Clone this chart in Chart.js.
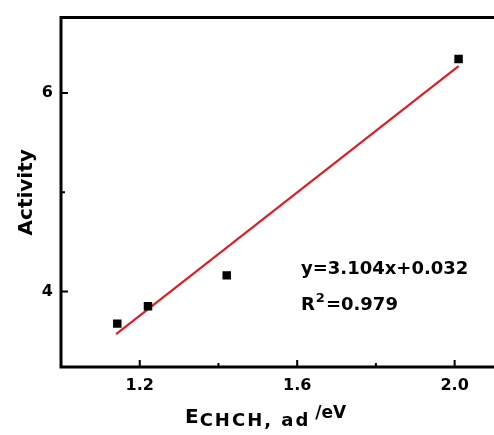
<!DOCTYPE html>
<html>
<head>
<meta charset="utf-8">
<script src="https://cdn.jsdelivr.net/npm/chart.js@4"></script>
<style>
  html, body { margin: 0; padding: 0; background: #fff; overflow: hidden; }
  #wrap { position: relative; width: 500px; height: 435px; }
</style>
</head>
<body>
<div id="wrap"><canvas id="c"></canvas></div>
<script>
// Adsorption energy of CHCH (eV) vs. activity
const energies   = [1.143, 1.221, 1.421, 2.010];
const activities = [3.677, 3.853, 4.163, 6.344];

// Linear fit reported on the plot
const fitSlope = 3.104;
const fitIntercept = 0.032;
const fitR2 = 0.979;
const fitRange = [1.14, 2.01];

// Axis ticks
const xMajorTicks = [1.2, 1.6, 2.0];
const xMinorTicks = [1.4, 1.8];
const yMajorTicks = [4, 6];
const yMinorTicks = [5];

const FONT = 'DejaVu Sans';

const scatterPoints = energies.map((e, i) => ({ x: e, y: activities[i] }));
const fitPoints = fitRange.map(e => ({ x: e, y: fitSlope * e + fitIntercept }));

// Frame, inward tick marks, x-axis title with subscript, fit annotation
const decorations = {
  id: 'decorations',
  afterDraw(chart) {
    const { ctx, chartArea: { left, right, top, bottom }, scales: { x, y } } = chart;
    ctx.save();
    ctx.strokeStyle = '#000';
    ctx.lineWidth = 3;
    ctx.beginPath();
    ctx.moveTo(right + 10, top);
    ctx.lineTo(left, top);
    ctx.lineTo(left, bottom);
    ctx.lineTo(right + 10, bottom);
    ctx.stroke();

    ctx.lineWidth = 2;
    ctx.beginPath();
    xMajorTicks.forEach(v => { const px = x.getPixelForValue(v); ctx.moveTo(px, bottom); ctx.lineTo(px, bottom - 7); });
    xMinorTicks.forEach(v => { const px = x.getPixelForValue(v); ctx.moveTo(px, bottom); ctx.lineTo(px, bottom - 4); });
    yMajorTicks.forEach(v => { const py = y.getPixelForValue(v); ctx.moveTo(left, py); ctx.lineTo(left + 7, py); });
    yMinorTicks.forEach(v => { const py = y.getPixelForValue(v); ctx.moveTo(left, py); ctx.lineTo(left + 4, py); });
    ctx.stroke();

    // x-axis title: E_{CHCH, ad} /eV
    ctx.fillStyle = '#000';
    ctx.textAlign = 'left';
    ctx.textBaseline = 'alphabetic';
    let tx = left + 124;
    ctx.font = `bold 20px "${FONT}"`;
    ctx.fillText('E', tx, 423);
    tx += ctx.measureText('E').width + 1;
    ctx.font = `bold 18px "${FONT}"`;
    ctx.letterSpacing = '2px';
    ctx.fillText('CHCH, ad', tx, 426);
    tx += ctx.measureText('CHCH, ad').width + 5;
    ctx.letterSpacing = '0px';
    ctx.font = `bold 17px "${FONT}"`;
    ctx.fillText('/eV', tx, 418);

    // fit equation
    const ax = left + 240;
    ctx.font = `bold 18px "${FONT}"`;
    ctx.fillText(`y=${fitSlope.toFixed(3)}x+${fitIntercept.toFixed(3)}`, ax, 274);
    ctx.fillText('R', ax, 310);
    let rx = ax + ctx.measureText('R').width + 1;
    ctx.font = `bold 13px "${FONT}"`;
    ctx.fillText('2', rx, 302);
    rx += ctx.measureText('2').width + 1;
    ctx.font = `bold 18px "${FONT}"`;
    ctx.fillText(`=${fitR2.toFixed(3)}`, rx, 310);
    ctx.restore();
  }
};

new Chart(document.getElementById('c'), {
  type: 'scatter',
  data: {
    datasets: [
      {
        label: 'data',
        data: scatterPoints,
        pointStyle: 'rect',
        pointRadius: 6,
        pointHoverRadius: 6,
        backgroundColor: '#000',
        borderWidth: 0,
        order: 0
      },
      {
        label: 'fit',
        type: 'line',
        data: fitPoints,
        borderColor: '#dc1f24',
        borderWidth: 2.2,
        pointRadius: 0,
        fill: false,
        order: 1
      }
    ]
  },
  plugins: [decorations],
  options: {
    responsive: true,
    maintainAspectRatio: false,
    animation: false,
    events: [],
    layout: { padding: { left: 0, top: 15, right: 0, bottom: 0 } },
    plugins: { legend: { display: false }, tooltip: { enabled: false } },
    scales: {
      x: {
        type: 'linear',
        min: 1.0,
        max: 2.1,
        afterBuildTicks: s => { s.ticks = xMajorTicks.map(v => ({ value: v })); },
        afterFit: s => { s.height = 68; },
        grid: { display: false, drawTicks: false },
        border: { display: false },
        ticks: {
          padding: 9,
          color: '#000',
          font: { family: FONT, size: 16, weight: 'bold' },
          callback: v => Number(v).toFixed(1)
        }
      },
      y: {
        type: 'linear',
        min: 3.24,
        max: 6.76,
        afterBuildTicks: s => { s.ticks = yMajorTicks.map(v => ({ value: v })); },
        afterFit: s => { s.width = 61; },
        grid: { display: false, drawTicks: false },
        border: { display: false },
        ticks: {
          padding: 8,
          color: '#000',
          font: { family: FONT, size: 16, weight: 'bold' },
          callback: v => String(v)
        },
        title: {
          display: true,
          text: 'Activity',
          color: '#000',
          font: { family: FONT, size: 20, weight: 'bold' },
          padding: { top: 15, bottom: 0 }
        }
      }
    }
  }
});
</script>
</body>
</html>
